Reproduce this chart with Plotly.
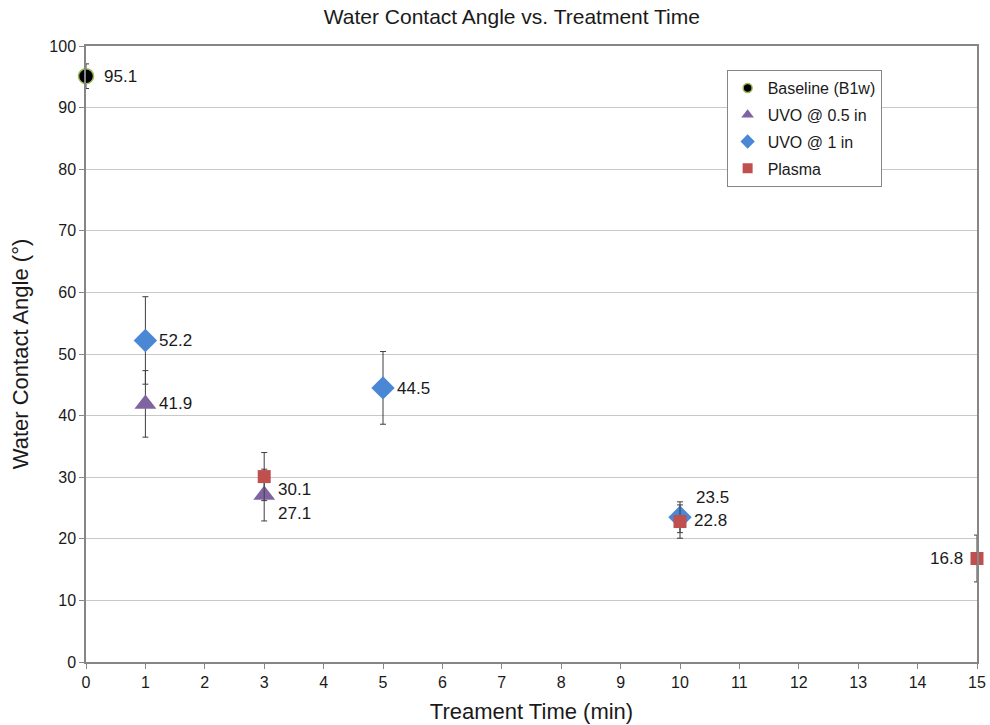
import plotly.graph_objects as go

# Data
series_names = ["Baseline (B1w)", "UVO @ 0.5 in", "UVO @ 1 in", "Plasma"]
baseline_t = [0]
baseline_v = [95.1]
baseline_e = [2.0]
uvo05_t = [1, 3]
uvo05_v = [41.9, 27.1]
uvo05_e = [5.4, 4.2]
uvo1_t = [1, 5, 10]
uvo1_v = [52.2, 44.5, 23.5]
uvo1_e = [7.1, 5.9, 2.5]
plasma_t = [3, 10, 15]
plasma_v = [30.1, 22.8, 16.8]
plasma_e = [3.9, 2.7, 3.8]
x_ticks = list(range(0, 16))
y_ticks = list(range(0, 101, 10))

FONT = "Liberation Sans, Arial, sans-serif"
TXT = "#1a1a1a"
ERR = dict(type="data", thickness=1, width=3, color="#3f3f3f")

series = [
    (series_names[0], baseline_t, baseline_v, baseline_e,
     dict(symbol="circle", size=15, color="#000000", line=dict(color="#9BBB59", width=1.5)), 9),
    (series_names[1], uvo05_t, uvo05_v, uvo05_e,
     dict(symbol="triangle-up", size=19, color="#8064A2", line=dict(width=0)), 11),
    (series_names[2], uvo1_t, uvo1_v, uvo1_e,
     dict(symbol="diamond", size=18, color="#4A88D6", line=dict(width=0)), 11),
    (series_names[3], plasma_t, plasma_v, plasma_e,
     dict(symbol="square", size=13, color="#C0504D", line=dict(width=0)), 10),
]

fig = go.Figure()
for name, t, v, e, mk, lsize in series:
    fig.add_trace(go.Scatter(
        x=t, y=v, mode="markers", name=name, showlegend=False,
        marker=mk, error_y=dict(array=e, **ERR), cliponaxis=False,
    ))
for name, t, v, e, mk, lsize in series:
    lm = dict(mk)
    lm["size"] = lsize
    fig.add_trace(go.Scatter(
        x=[None], y=[None], mode="markers", name=name, showlegend=True,
        marker=lm, legendgroup=name,
    ))

# data label offsets in pixels (dx, dy, anchor)
label_offsets = {
    (0, 0): (16, 0, "left"),
    (1, 0): (12, 0, "left"),
    (1, 1): (12, -18, "left"),
    (2, 0): (12, 0, "left"),
    (2, 1): (12, -1, "left"),
    (2, 2): (14, 20, "left"),
    (3, 0): (12, -13, "left"),
    (3, 1): (12, 1, "left"),
    (3, 2): (-12, 0, "right"),
}
for si, (name, t, v, e, mk, lsize) in enumerate(series):
    for pi, (xx, yy) in enumerate(zip(t, v)):
        dx, dy, anc = label_offsets.get((si, pi), (12, 0, "left"))
        fig.add_annotation(
            x=xx, y=yy, text=f"{yy:.1f}", showarrow=False,
            xanchor=anc, yanchor="middle", xshift=dx, yshift=dy,
            font=dict(family=FONT, size=17, color=TXT),
        )

fig.update_layout(
    width=990, height=725,
    margin=dict(l=86, r=13, t=46, b=63),
    paper_bgcolor="white", plot_bgcolor="white",
    font=dict(family=FONT, color=TXT),
    title=dict(text="Water Contact Angle vs. Treatment Time", x=0.517, xanchor="center",
               y=0.977, yanchor="middle", font=dict(family=FONT, size=21, color=TXT)),
    xaxis=dict(
        range=[0, 15], tickmode="array", tickvals=x_ticks,
        ticks="outside", ticklen=5, tickcolor="#868686",
        showline=True, linecolor="#868686", linewidth=1.5, mirror=True,
        showgrid=False, zeroline=False, automargin=False,
        tickfont=dict(family=FONT, size=16, color=TXT),
        title=dict(text="Treament Time (min)", font=dict(family=FONT, size=22, color=TXT), standoff=14),
    ),
    yaxis=dict(
        range=[0, 100], tickmode="array", tickvals=y_ticks,
        ticks="outside", ticklen=5, tickcolor="#868686",
        showline=True, linecolor="#868686", linewidth=1.5, mirror=True,
        showgrid=True, gridcolor="#C8C8C8", gridwidth=1.2, zeroline=False, automargin=False,
        tickfont=dict(family=FONT, size=16, color=TXT),
        title=dict(text="Water Contact Angle (°)", font=dict(family=FONT, size=22, color=TXT), standoff=15),
    ),
    legend=dict(
        x=0.719, y=0.961, xanchor="left", yanchor="top",
        bgcolor="white", bordercolor="#868686", borderwidth=1,
        font=dict(family=FONT, size=16, color=TXT),
        traceorder="grouped", tracegroupgap=3, itemwidth=30,
    ),
)

fig.write_html("out.html", config={"displayModeBar": False},
               post_script="document.body.style.margin='0';")
